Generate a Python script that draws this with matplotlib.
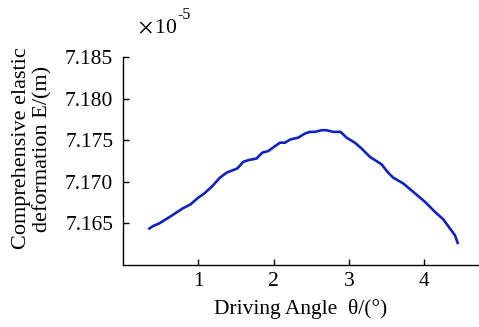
import matplotlib
matplotlib.use("Agg")
import matplotlib.pyplot as plt

# Driving angle (deg) and comprehensive elastic deformation (x1e-5 m)
angle = [0.336, 0.403, 0.482, 0.624, 0.793, 0.899, 1.000, 1.067, 1.178, 1.288,
         1.377, 1.518, 1.598, 1.664, 1.775, 1.850, 1.930, 2.085, 2.151, 2.227,
         2.328, 2.417, 2.483, 2.550, 2.639, 2.705, 2.793, 2.891, 2.971, 3.081,
         3.170, 3.280, 3.435, 3.523, 3.590, 3.723, 3.855, 4.011, 4.143, 4.254,
         4.343, 4.409, 4.453]
deform = [7.1643, 7.1647, 7.1650, 7.1658, 7.1668, 7.1673, 7.1681, 7.1685, 7.1694, 7.1705,
          7.1711, 7.1716, 7.1724, 7.1726, 7.1728, 7.1735, 7.1737, 7.1747, 7.1747, 7.1751,
          7.1753, 7.1758, 7.1760, 7.1760, 7.1762, 7.1762, 7.1760, 7.1760, 7.1753, 7.1747,
          7.1740, 7.1730, 7.1721, 7.1711, 7.1705, 7.1698, 7.1688, 7.1676, 7.1664, 7.1655,
          7.1644, 7.1636, 7.1625]

xticks = [1, 2, 3, 4]
yticks = [7.165, 7.170, 7.175, 7.180, 7.185]
ytick_labels = ["7.165", "7.170", "7.175", "7.180", "7.185"]

plt.rcParams["font.family"] = ["Liberation Serif", "DejaVu Serif"]
plt.rcParams["mathtext.fontset"] = "stix"

FS = 15.5

fig = plt.figure(figsize=(4.79, 3.27), dpi=100)
ax = fig.add_axes([0.2568, 0.1896, 0.7432, 0.6361])

ax.plot(angle, deform, color="#1022C0", linewidth=1.9, solid_capstyle="butt")

ax.set_xlim(0, 4.73)
ax.set_ylim(7.160, 7.185)
ax.set_xticks(xticks)
ax.set_xticklabels([str(t) for t in xticks])
ax.set_yticks(yticks)
ax.set_yticklabels(ytick_labels)

for s in ("top", "right"):
    ax.spines[s].set_visible(False)
for s in ("left", "bottom"):
    ax.spines[s].set_linewidth(1.0)
    ax.spines[s].set_color("black")

ax.tick_params(direction="in", length=4.5, width=1.0, labelsize=FS, pad=5,
               colors="black")
ax.tick_params(axis="y", pad=7)

ax.set_xlabel("Driving Angle  θ/(°)", fontsize=FS, labelpad=6)
ax.set_ylabel("Comprehensive elastic\ndeformation E/(m)", fontsize=16,
              linespacing=1.2)
ax.yaxis.set_label_coords(-0.197, 0.56)

fig.text(138 / 479, 1 - 29 / 327, r"$\times\,$10", fontsize=FS,
         ha="left", va="center")
fig.text(177 / 479, 1 - 15 / 327, "-5", fontsize=11.5, ha="left", va="center")

fig.savefig("out.png", dpi=100)
